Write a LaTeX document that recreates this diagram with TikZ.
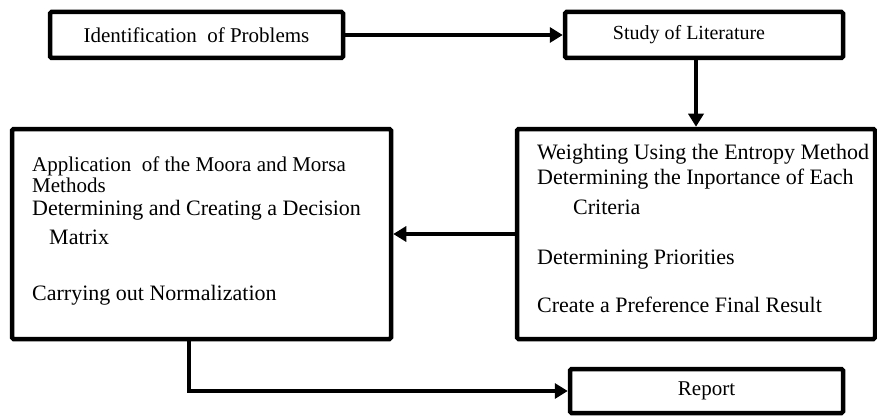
\documentclass[tikz,border=0pt]{standalone}
\usepackage{fontspec}
\setmainfont{Liberation Serif}
\usetikzlibrary{arrows.meta}
\begin{document}
\begin{tikzpicture}[x=1pt,y=-1pt,
  boxst/.style={draw=black,line width=4.5pt,rounded corners=1.5pt,fill=white,inner sep=0pt},
  small/.style={font=\fontsize{21}{24}\selectfont},
  ttl/.style={anchor=base west,inner sep=0pt,font=\fontsize{21}{24}\selectfont},
  cam/.style={anchor=base west,inner sep=0pt,font=\fontsize{22}{26}\selectfont},
  conn/.style={line width=4.5pt,-{Triangle[length=13pt,width=15pt]}}]
\useasboundingbox (0,0) rectangle (877,417);
% boxes
\node[boxst,small,minimum width=293pt,minimum height=46pt] (box1) at (196.5,35) {Identification\ \ of Problems};
\node[boxst,minimum width=278pt,minimum height=46pt] (box2) at (704,35) {};
\node[anchor=center,inner sep=0pt,font=\fontsize{20}{24}\selectfont] (box2t) at (689,35) {Study of Literature};
\node[boxst,minimum width=379pt,minimum height=210pt] (lbox) at (201.5,234) {};
\node[boxst,minimum width=358pt,minimum height=210pt] (rbox) at (696,234) {};
\node[boxst,small,minimum width=273pt,minimum height=44pt] (report) at (706.5,391) {Report};
% left box text
\node[ttl] (l1) at (32,171) {Application\ \ of the Moora and Morsa};
\node[ttl] (l2) at (32,192) {Methods};
\node[cam] (l3) at (32,215) {Determining and Creating a Decision};
\node[cam] (l4) at (49,244) {Matrix};
\node[cam] (l5) at (32,300) {Carrying out Normalization};
% right box text
\node[cam] (r1) at (537,159) {Weighting Using the Entropy Method};
\node[cam] (r2) at (537,184) {Determining the Inportance of Each};
\node[cam] (r3) at (573,214) {Criteria};
\node[cam] (r4) at (537,264) {Determining Priorities};
\node[cam] (r5) at (537,312) {Create a Preference Final Result};
% connectors
\draw[conn] (box1.east) -- (box2.west);
\draw[conn] (rbox.north |- box2.south) -- (rbox.north);
\draw[conn] (rbox.west) -- (lbox.east);
\draw[conn] ([xshift=-12.5pt]lbox.south) |- (report.west);
\end{tikzpicture}
\end{document}
